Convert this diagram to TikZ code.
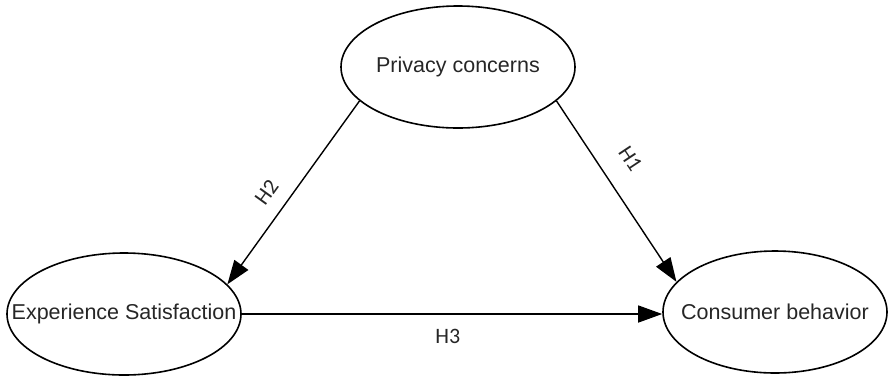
\documentclass[tikz,border=0pt]{standalone}
\usepackage{fontspec}
\setmainfont{Liberation Sans}
\newfontfamily\hypfont{Carlito}
\usetikzlibrary{shapes.geometric,arrows.meta}

\tikzset{
  construct/.style={ellipse,draw,line width=1.6pt,inner sep=0pt,
    minimum width=234pt,minimum height=122pt,
    label={[font=\fontsize{21.5}{26}\selectfont,text=black!85]center:#1}},
  hyp/.style={font=\hypfont\fontsize{22}{26}\selectfont,text=black!85},
}

\begin{document}
\begin{tikzpicture}[x=1pt,y=1pt]
      \useasboundingbox (0,0) rectangle (889,-376);
      \node[construct=Privacy concerns](pc) at (458,-67){};
      \node[construct=Experience Satisfaction](es) at (124,-314){};
      \node[construct=Consumer behavior,minimum width=224pt](cb) at (775,-312){};
      \path[-{Triangle[length=24pt,width=17pt]},line width=1.4pt]
        (pc.199) edge node[hyp,sloped,above,pos=0.57,inner sep=14pt]{H2} (es.16)
        (pc.341) edge node[hyp,sloped,above,pos=0.41,inner sep=22pt]{H1} (cb.163)
        (es.east) edge node[hyp,below,pos=0.49,inner sep=15pt]{H3} (cb.west |- es.east)
      ;
    \end{tikzpicture}
\end{document}
